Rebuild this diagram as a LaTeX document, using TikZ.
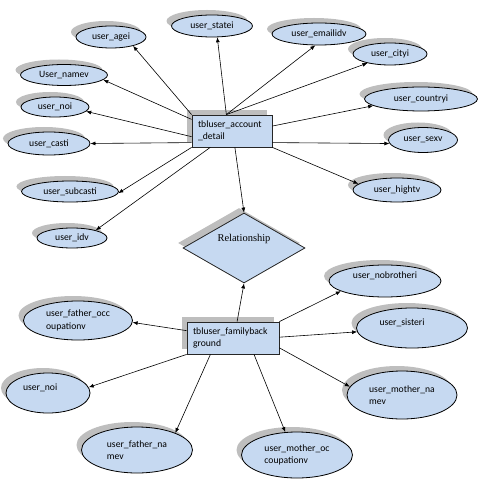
\documentclass[tikz,border=0pt]{standalone}
\usepackage{fontspec}
\setmainfont{Carlito}
\newfontfamily\relfont{Liberation Serif}
\usetikzlibrary{shapes.geometric,shadows,arrows.meta}
\definecolor{bluefill}{RGB}{198,217,241}
\definecolor{shadowgray}{RGB}{190,190,190}
\begin{document}
\begin{tikzpicture}[x=1bp,y=-1bp,
  dshadow/.style={drop shadow={shadow xshift=-5bp,shadow yshift=5bp,fill=shadowgray,opacity=1}},
  attr/.style={ellipse,draw=black,line width=0.8bp,fill=bluefill,inner sep=0pt,dshadow,
    font=\fontsize{9.7}{12.5}\selectfont,align=left},
  entity/.style={rectangle,draw=black!85,line width=0.8bp,fill=bluefill,inner xsep=6bp,inner ysep=0pt,
    minimum height=32bp,dshadow,font=\fontsize{9.7}{12.5}\selectfont,align=left},
  relbox/.style={diamond,draw=black!85,line width=0.8bp,fill=bluefill,inner sep=0pt,dshadow},
  conn/.style={-{Latex[length=5bp,width=4bp]},line width=0.6bp}]
\useasboundingbox (0,0) rectangle (481,483);

% entities
\node[entity,text width=68bp] (acc) at (232,131) {tbluser\_account\\\_detail};
\node[entity,text width=80bp] (fam) at (233,338) {tbluser\_familyback\\ground};

% relationship
\node[relbox,minimum width=122bp,minimum height=70bp] (rel) at (244,248) {};
\node[font=\relfont\fontsize{10.5}{12}\selectfont] (reltxt) at (244,239) {Relationship};

% attributes of account
\node[attr,minimum width=70bp,minimum height=22bp] (agei) at (111,37) {user\_agei};
\node[attr,minimum width=87bp,minimum height=21bp] (namev) at (64,75) {User\_namev};
\node[attr,minimum width=68bp,minimum height=20bp] (noi) at (55,107) {user\_noi};
\node[attr,minimum width=82bp,minimum height=23bp] (casti) at (49,143.5) {user\_casti};
\node[attr,minimum width=97bp,minimum height=21bp] (subcasti) at (70,191.5) {user\_subcasti};
\node[attr,minimum width=70bp,minimum height=20bp] (idv) at (72,238) {user\_idv};
\node[attr,minimum width=81bp,minimum height=22bp] (statei) at (212,26) {user\_statei};
\node[attr,minimum width=94bp,minimum height=22bp] (email) at (319,34) {user\_emailidv};
\node[attr,minimum width=74bp,minimum height=22bp] (cityi) at (390,54) {user\_cityi};
\node[attr,minimum width=113bp,minimum height=24bp] (country) at (421,99) {user\_countryi};
\node[attr,minimum width=69bp,minimum height=25bp] (sexv) at (423,140) {user\_sexv};
\node[attr,minimum width=88bp,minimum height=24bp] (hight) at (397,190) {user\_hightv};

% attributes of family
\node[attr,minimum width=109bp,minimum height=39bp] (focc) at (78,320.5) {user\_father\_occ\\oupationv};
\node[attr,minimum width=84bp,minimum height=40bp] (noitwo) at (48,393) {user\_noi\\\hspace*{50bp}};
\node[attr,minimum width=111bp,minimum height=46bp] (fname) at (137,450) {user\_father\_na\\mev};
\node[attr,minimum width=112bp,minimum height=32bp] (nobro) at (385,281) {user\_nobrotheri\\\mbox{}};
\node[attr,minimum width=111bp,minimum height=40bp] (sister) at (412,328) {user\_sisteri\\\hspace*{65bp}};
\node[attr,minimum width=110bp,minimum height=48bp] (mname) at (402,395) {user\_mother\_na\\mev};
\node[attr,minimum width=111bp,minimum height=46bp] (mocc) at (297,455) {user\_mother\_oc\\coupationv};

% connectors from account
\draw[conn] (acc.north west) -- (agei.-22.6);
\draw[conn] (acc.164.6) -- (namev.-7.5);
\draw[conn] (acc.188.5) -- (noi.-8.9);
\draw[conn] (acc.196.7) -- (casti.0);
\draw[conn] (acc.south west) -- (subcasti.-2);
\draw[conn] (acc.217.7) -- (idv.18.4);
\draw[conn] (acc.109.4) -- (statei.-65.6);
\draw[conn] (acc.109.4) -- (email.-108.4);
\draw[conn] (acc.109.4) -- (cityi.-158);
\draw[conn] (acc.7.1) -- (country.-172.2);
\draw[conn] (acc.-16.7) -- (sexv.-174);
\draw[conn] (acc.south east) -- (hight.171);
\draw[conn] (acc.280) -- (rel.north);

% connectors from family
\draw[conn] (fam.76) -- (rel.south);
\draw[conn] (fam.171.3) -- (focc.-2.6);
\draw[conn] (fam.south west) -- (noitwo.8.7);
\draw[conn] (fam.216) -- (fname.24.2);
\draw[conn] (fam.north east) -- (nobro.-167.5);
\draw[conn] (fam.1.2) -- (sister.-176.9);
\draw[conn] (fam.-12.3) -- (mname.171.7);
\draw[conn] (fam.-38.7) -- (mocc.117.6);
\end{tikzpicture}
\end{document}
